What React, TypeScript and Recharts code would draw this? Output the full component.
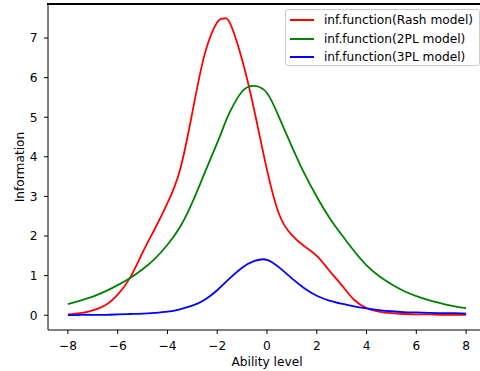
import React from "react";
import { LineChart, Line, XAxis, YAxis, Legend } from "recharts";

// ability grid (extra point at the Rasch peak)
const ability = [
  -8, -7.5, -7, -6.5, -6, -5.5, -5, -4.5, -4, -3.5, -3, -2.5, -2, -1.75, -1.5, -1,
  -0.5, 0, 0.5, 1, 1.5, 2, 2.5, 3, 3.5, 4, 4.5, 5, 5.5, 6, 6.5, 7, 7.5, 8,
];

const raschInfo = [
  0.02, 0.05, 0.12, 0.25, 0.52, 0.95, 1.58, 2.19, 2.83, 3.66, 5.12, 6.6, 7.4, 7.49, 7.39, 6.45,
  5.14, 3.67, 2.53, 2.02, 1.74, 1.5, 1.13, 0.76, 0.39, 0.18, 0.09, 0.05, 0.03, 0.02, 0.02, 0.01, 0.01, 0.01,
];

const twoPLInfo = [
  0.28, 0.37, 0.47, 0.6, 0.76, 0.94, 1.16, 1.43, 1.78, 2.22, 2.85, 3.6, 4.35, 4.75, 5.12, 5.65,
  5.79, 5.61, 4.98, 4.26, 3.58, 2.99, 2.47, 2.03, 1.62, 1.26, 0.99, 0.78, 0.61, 0.48, 0.38, 0.3, 0.23, 0.18,
];

const threePLInfo = [
  0.0, 0.01, 0.01, 0.01, 0.02, 0.03, 0.04, 0.06, 0.09, 0.15, 0.24, 0.39, 0.63, 0.78, 0.93, 1.2,
  1.37, 1.4, 1.2, 0.93, 0.68, 0.49, 0.37, 0.29, 0.22, 0.17, 0.13, 0.1, 0.08, 0.07, 0.06, 0.05, 0.05, 0.04,
];

const seriesNames = [
  "inf.function(Rash model)",
  "inf.function(2PL model)",
  "inf.function(3PL model)",
];

const xTicks = [-8, -6, -4, -2, 0, 2, 4, 6, 8];
const yTicks = [0, 1, 2, 3, 4, 5, 6, 7];
const xDomain = [-8.8, 8.8];
const yDomain = [-0.374, 7.86];

const data = ability.map((x, i) => ({
  ability: x,
  rasch: raschInfo[i],
  twoPL: twoPLInfo[i],
  threePL: threePLInfo[i],
}));

const FONT = "DejaVu Sans";
const FS = 12.2;

const minus = (v: number) => String(v).replace("-", "\u2212");

function LegendBox({ payload }: any) {
  const items = [...(payload || [])].sort(
    (a: any, b: any) => seriesNames.indexOf(a.value) - seriesNames.indexOf(b.value)
  );
  return (
    <div
      style={{
        width: 195,
        height: 57,
        boxSizing: "border-box",
        border: "1px solid #cccccc",
        borderRadius: 3,
        background: "rgba(255,255,255,0.8)",
        paddingTop: 1,
        fontFamily: FONT,
      }}
    >
      {items.map((p: any) => (
        <div key={p.value} style={{ height: 18.2, display: "flex", alignItems: "center" }}>
          <div style={{ marginLeft: 4, width: 24.4, height: 2, background: p.color }} />
          <span
            style={{ marginLeft: 9.8, fontSize: FS, lineHeight: 1, color: "#000", whiteSpace: "nowrap" }}
          >
            {p.value}
          </span>
        </div>
      ))}
    </div>
  );
}

export default function App() {
  return (
    <div
      style={{
        position: "fixed",
        left: 0,
        top: 0,
        width: 480,
        height: 371,
        overflow: "hidden",
        background: "#fff",
      }}
    >
      <LineChart
        width={500}
        height={371}
        data={data}
        margin={{ top: 4, right: 14, bottom: 0, left: 0 }}
        style={{ fontFamily: FONT }}
      >
        <XAxis
          dataKey="ability"
          type="number"
          domain={xDomain}
          ticks={xTicks}
          tickFormatter={minus}
          height={41}
          tickSize={4}
          tickMargin={7}
          axisLine={{ stroke: "#000" }}
          tickLine={{ stroke: "#000" }}
          tick={{ fontSize: FS, fill: "#000" }}
          label={{ value: "Ability level", position: "insideBottom", offset: 5.5, fill: "#000", fontSize: FS }}
        />
        <YAxis
          type="number"
          domain={yDomain}
          ticks={yTicks}
          width={48}
          tickSize={4}
          tickMargin={6.5}
          axisLine={{ stroke: "#000" }}
          tickLine={{ stroke: "#000" }}
          tick={{ fontSize: FS, fill: "#000" }}
          label={{ value: "Information", angle: -90, position: "center", dx: -4, fill: "#000", fontSize: FS }}
        />
        <Legend
          layout="vertical"
          align="center"
          verticalAlign="middle"
          content={<LegendBox />}
          wrapperStyle={{ position: "absolute", top: 9.4, left: 284.7, width: "auto", height: "auto" }}
        />
        <Line
          dataKey="rasch"
          name={seriesNames[0]}
          type="natural"
          stroke="#ff0000"
          strokeWidth={1.8}
          dot={false}
          isAnimationActive={false}
        />
        <Line
          dataKey="twoPL"
          name={seriesNames[1]}
          type="natural"
          stroke="#008000"
          strokeWidth={1.8}
          dot={false}
          isAnimationActive={false}
        />
        <Line
          dataKey="threePL"
          name={seriesNames[2]}
          type="natural"
          stroke="#0000ff"
          strokeWidth={1.8}
          dot={false}
          isAnimationActive={false}
        />
      </LineChart>
      {/* top spine of the axes frame */}
      <div
        style={{
          position: "absolute",
          top: 3,
          left: 47,
          width: 440,
          height: 1.5,
          background: "#000",
          zIndex: 5,
        }}
      />
    </div>
  );
}
